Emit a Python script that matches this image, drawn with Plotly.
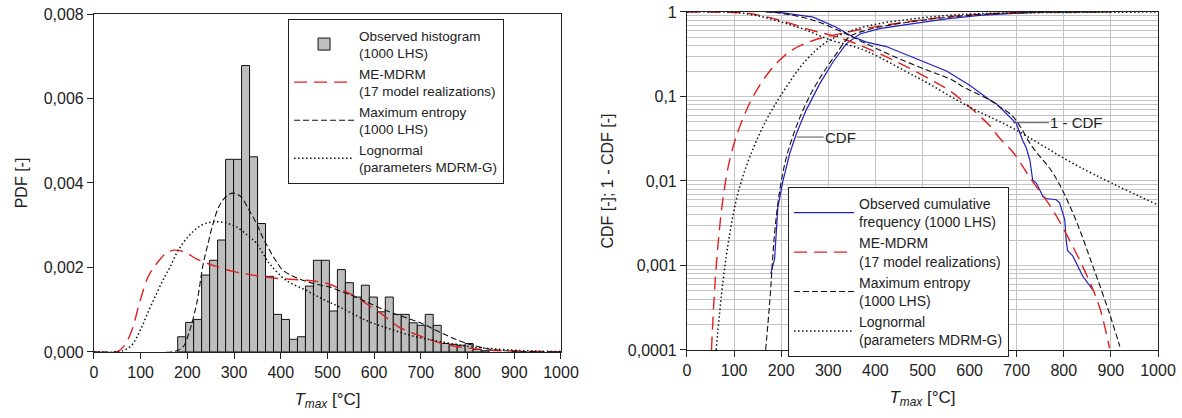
import plotly.graph_objects as go

# ---------------- data: left panel (PDF) ----------------
hist_centers = [187.8, 204.9, 222.0, 239.1, 256.2, 273.3, 290.4, 307.5, 324.6, 341.7,
                358.8, 375.9, 393.0, 410.1, 427.2, 444.3, 461.4, 478.5, 495.6, 512.7,
                529.8, 546.9, 564.0, 581.1, 598.2, 615.3, 632.4, 649.5, 666.6, 683.7,
                700.8, 717.9, 735.0, 752.1, 769.2, 786.3, 803.4, 820.5, 837.6]
hist_density = [0.00036, 0.00070, 0.00077, 0.00182, 0.00217, 0.00265, 0.00456, 0.00456, 0.00678, 0.00462,
                0.00304, 0.00179, 0.00089, 0.00077, 0.00030, 0.00036, 0.00156, 0.00217, 0.00217, 0.00097,
                0.00195, 0.00164, 0.00130, 0.00158, 0.00130, 0.00095, 0.00130, 0.00089, 0.00089, 0.00069,
                0.00063, 0.00089, 0.00063, 0.00020, 0.00018, 0.00016, 0.00020, 0.00006, 0.00003]
hist_bin_width = 17.1

me_mdrm_pdf_x = [0, 40, 52, 65, 81, 99, 116, 134, 155, 173, 195, 220, 255, 300, 340, 386, 436, 470,
                 500, 530, 561, 585, 610, 630, 653, 680, 703, 725, 745, 770, 795, 830, 870, 920, 1000]
me_mdrm_pdf_y = [0, 0, 0.00002, 0.00015, 0.00051, 0.00122, 0.00178, 0.00209, 0.00234, 0.00241,
                 0.00236, 0.00220, 0.00205, 0.00190, 0.00182, 0.00175, 0.00171, 0.00168, 0.00162,
                 0.00148, 0.00130, 0.00113, 0.00095, 0.00078, 0.00059, 0.00046, 0.00036, 0.00027,
                 0.00020, 0.00014, 0.00010, 0.00006, 0.00003, 0.000015, 0.000005]

maxent_pdf_x = [0, 165, 180, 191, 205, 220, 234, 245, 255, 268, 283, 298, 315, 330, 348, 362, 376,
                390, 404, 425, 447, 470, 490, 504, 530, 561, 590, 617, 645, 674, 703, 731, 760, 788,
                815, 845, 880, 920, 1000]
maxent_pdf_y = [0, 0, 0.00004, 0.00012, 0.00051, 0.00115, 0.00209, 0.00260, 0.00304, 0.00345,
                0.00368, 0.00376, 0.00367, 0.00340, 0.00304, 0.00270, 0.00241, 0.00215, 0.00194,
                0.00180, 0.00170, 0.00162, 0.00157, 0.00154, 0.00143, 0.00130, 0.00115, 0.00102,
                0.00090, 0.00079, 0.00067, 0.00052, 0.00037, 0.00024, 0.00015, 0.00007, 0.00003,
                0.00001, 0.0]

lognorm_pdf_x = [0, 50, 60, 80, 99, 116, 134, 150, 163, 180, 205, 230, 255, 280, 305, 330, 348, 376,
                 411, 454, 490, 525, 582, 632, 689, 745, 802, 850, 900, 950, 1000]
lognorm_pdf_y = [0, 0, 0.00002, 0.00015, 0.00051, 0.00095, 0.00138, 0.00175, 0.00201, 0.00240,
                 0.00277, 0.00300, 0.00308, 0.00306, 0.00296, 0.00275, 0.00257, 0.00209, 0.00170,
                 0.00146, 0.00125, 0.00107, 0.00075, 0.00055, 0.00036, 0.00024, 0.00013, 0.00008,
                 0.00004, 0.00002, 0.00001]

# ---------------- data: right panel (CDF / 1-CDF) ----------------
obs_cdf_x = [178, 186, 193, 204, 218, 232, 253, 282, 310, 338, 367, 409, 480, 551, 621, 692, 727, 760, 800, 862]
obs_cdf_y = [0.0008, 0.0012, 0.0049, 0.0102, 0.021, 0.036, 0.069, 0.142, 0.256, 0.42, 0.55, 0.635,
             0.73, 0.83, 0.91, 0.97, 0.985, 0.993, 0.997, 0.9995]
obs_sf_x = [178, 197, 268, 317, 352, 381, 423, 480, 551, 600, 643, 657, 680, 699, 713, 720, 728,
            734, 742, 756, 763, 784, 791, 798, 802, 805, 808, 819, 834, 840, 862]
obs_sf_y = [0.9992, 0.99, 0.87, 0.66, 0.51, 0.44, 0.39, 0.29, 0.20, 0.136, 0.091, 0.082, 0.062,
            0.048, 0.030, 0.025, 0.0176, 0.0102, 0.0094, 0.0065, 0.0062, 0.0060, 0.0055, 0.0042,
            0.0035, 0.0020, 0.0015, 0.0013, 0.00089, 0.00075, 0.00051]

me_mdrm_cdf_x = [52, 62, 76, 91, 112, 140, 176, 218, 268, 324, 381, 444, 515, 586, 692, 800, 900]
me_mdrm_cdf_y = [0.0001, 0.00097, 0.0059, 0.018, 0.044, 0.099, 0.20, 0.34, 0.46, 0.55, 0.64, 0.73,
                 0.83, 0.91, 0.98, 0.995, 0.999]
me_mdrm_sf_x = [0, 126, 147, 197, 268, 317, 374, 444, 525, 560, 600, 643, 664, 692, 728, 777, 812, 848, 876, 897]
me_mdrm_sf_y = [0.9999, 0.97, 0.93, 0.80, 0.60, 0.51, 0.39, 0.26, 0.15, 0.115, 0.075, 0.045, 0.032,
                0.022, 0.011, 0.0045, 0.0020, 0.00078, 0.00032, 0.000105]

maxent_cdf_x = [167, 176, 186, 197, 211, 232, 260, 289, 317, 345, 381, 444, 515, 586, 657, 727, 800, 900]
maxent_cdf_y = [0.0001, 0.00039, 0.0024, 0.0078, 0.019, 0.044, 0.10, 0.19, 0.32, 0.51, 0.61, 0.72,
                0.82, 0.90, 0.96, 0.985, 0.996, 0.9995]
maxent_sf_x = [167, 197, 268, 338, 381, 444, 515, 564, 586, 643, 657, 692, 734, 777, 820, 862, 897, 919]
maxent_sf_y = [0.9999, 0.97, 0.80, 0.55, 0.42, 0.29, 0.20, 0.156, 0.13, 0.091, 0.080, 0.058, 0.025,
               0.0124, 0.0041, 0.00097, 0.00027, 0.00011]

lognorm_cdf_x = [62, 76, 91, 108, 133, 168, 211, 253, 296, 352, 409, 480, 551, 621, 727, 1000]
lognorm_cdf_y = [0.0001, 0.00062, 0.0024, 0.0071, 0.019, 0.052, 0.13, 0.27, 0.44, 0.61, 0.73, 0.83,
                 0.91, 0.955, 0.98, 0.998]
lognorm_sf_x = [0, 100, 147, 197, 253, 303, 367, 409, 480, 500, 600, 692, 834, 1000]
lognorm_sf_y = [0.9999, 0.99, 0.91, 0.77, 0.61, 0.47, 0.37, 0.29, 0.178, 0.156, 0.075, 0.042, 0.0146, 0.0052]

x_ticks = [0, 100, 200, 300, 400, 500, 600, 700, 800, 900, 1000]
pdf_ticks = [0.0, 0.002, 0.004, 0.006, 0.008]
cdf_ticks = [0.0001, 0.001, 0.01, 0.1, 1]
cdf_ticklabels = ["0,0001", "0,001", "0,01", "0,1", "1"]

# ---------------- styles ----------------
RED = "#e02020"
BLUE = "#2020c0"
BLACK = "#111111"
red_dash = "13px,7px"
blk_dash = "6px,3px"
dot_dash = "1.5px,2.5px"
FONT = "Liberation Sans, Arial, sans-serif"

fig = go.Figure()

# left panel
fig.add_trace(go.Bar(x=hist_centers, y=hist_density, width=hist_bin_width,
                     marker=dict(color="#bebebe", line=dict(color="#111111", width=1)),
                     name="Observed histogram<br>(1000 LHS)", xaxis="x", yaxis="y", legend="legend"))
fig.add_trace(go.Scatter(x=me_mdrm_pdf_x, y=me_mdrm_pdf_y, mode="lines",
                         line=dict(color=RED, width=1.4, dash=red_dash, shape="spline"),
                         name="ME-MDRM<br>(17 model realizations)", xaxis="x", yaxis="y", legend="legend"))
fig.add_trace(go.Scatter(x=maxent_pdf_x, y=maxent_pdf_y, mode="lines",
                         line=dict(color=BLACK, width=1.1, dash=blk_dash, shape="spline"),
                         name="Maximum entropy<br>(1000 LHS)", xaxis="x", yaxis="y", legend="legend"))
fig.add_trace(go.Scatter(x=lognorm_pdf_x, y=lognorm_pdf_y, mode="lines",
                         line=dict(color=BLACK, width=1.5, dash=dot_dash, shape="spline"),
                         name="Lognormal<br>(parameters MDRM-G)", xaxis="x", yaxis="y", legend="legend"))

# right panel
def add_pair(cx, cy, sx, sy, name, line):
    fig.add_trace(go.Scatter(x=cx, y=cy, mode="lines", line=line, name=name, legendgroup=name,
                             xaxis="x2", yaxis="y2", legend="legend2"))
    fig.add_trace(go.Scatter(x=sx, y=sy, mode="lines", line=line, name=name, legendgroup=name,
                             showlegend=False, xaxis="x2", yaxis="y2", legend="legend2"))

add_pair(obs_cdf_x, obs_cdf_y, obs_sf_x, obs_sf_y, "Observed cumulative<br>frequency (1000 LHS)",
         dict(color=BLUE, width=1.2))
add_pair(me_mdrm_cdf_x, me_mdrm_cdf_y, me_mdrm_sf_x, me_mdrm_sf_y, "ME-MDRM<br>(17 model realizations)",
         dict(color=RED, width=1.4, dash=red_dash, shape="spline"))
add_pair(maxent_cdf_x, maxent_cdf_y, maxent_sf_x, maxent_sf_y, "Maximum entropy<br>(1000 LHS)",
         dict(color=BLACK, width=1.1, dash=blk_dash, shape="spline"))
add_pair(lognorm_cdf_x, lognorm_cdf_y, lognorm_sf_x, lognorm_sf_y, "Lognormal<br>(parameters MDRM-G)",
         dict(color=BLACK, width=1.5, dash=dot_dash, shape="spline"))

# annotations "CDF" and "1 - CDF"
fig.add_annotation(x=233, y=-1.48, xref="x2", yref="y2", text="CDF", showarrow=True,
                   arrowhead=0, arrowcolor="#555555", arrowwidth=1, ax=44, ay=0,
                   font=dict(size=15, color="#222222"))
fig.add_annotation(x=692, y=-1.31, xref="x2", yref="y2", text="1 - CDF", showarrow=True,
                   arrowhead=0, arrowcolor="#555555", arrowwidth=1, ax=64, ay=0,
                   font=dict(size=15, color="#222222"))

title_x = "<i>T</i><sub><i>max</i></sub> [°C]"
axis_common = dict(showline=True, linecolor="#222222", linewidth=1, mirror=True,
                   ticks="outside", ticklen=6, tickcolor="#222222", zeroline=False,
                   ticklabeloverflow="allow",
                   tickfont=dict(size=16, color="#222222"))

fig.update_layout(
    width=1182, height=418,
    margin=dict(l=0, r=0, t=0, b=0),
    paper_bgcolor="white", plot_bgcolor="white",
    separators=",.",
    font=dict(family=FONT, size=15, color="#222222"),
    bargap=0,
    hovermode=False,
    xaxis=dict(domain=[0.0795, 0.4746], range=[0, 1000], tickvals=x_ticks, showgrid=False,
               anchor="y", title=dict(text=title_x, font=dict(size=17), standoff=12),
               automargin=False, **axis_common),
    yaxis=dict(domain=[0.158, 0.9665], range=[0, 0.008], tickvals=pdf_ticks, tickformat=".3f",
               showgrid=False, anchor="x", title=dict(text="PDF [-]", font=dict(size=16), standoff=12),
               automargin=False, **axis_common),
    xaxis2=dict(domain=[0.5812, 0.9797], range=[0, 1000], tickvals=x_ticks, anchor="y2",
                showgrid=True, gridcolor="#c4c4c4", gridwidth=1,
                title=dict(text=title_x, font=dict(size=17), standoff=12),
                automargin=False, **axis_common),
    yaxis2=dict(domain=[0.1627, 0.9713], type="log", range=[-4, 0], tickvals=cdf_ticks,
                ticktext=cdf_ticklabels, anchor="x2", showgrid=True, gridcolor="#c4c4c4", gridwidth=1,
                minor=dict(tickvals=[k * 10.0 ** d for d in range(-4, 0) for k in range(2, 10)],
                           showgrid=True, gridcolor="#c4c4c4", gridwidth=1, ticks=""),
                title=dict(text="CDF [-]; 1 - CDF [-]", font=dict(size=16), standoff=10),
                automargin=False, **axis_common),
    legend=dict(x=0.2437, y=0.9545, xanchor="left", yanchor="top", bgcolor="white",
                bordercolor="#222222", borderwidth=1, font=dict(size=13.5, color="#222222"),
                tracegroupgap=0, itemwidth=60),
    legend2=dict(x=0.6667, y=0.5526, xanchor="left", yanchor="top", bgcolor="white",
                 bordercolor="#222222", borderwidth=1, font=dict(size=14, color="#222222"),
                 tracegroupgap=0, itemwidth=60),
    showlegend=True,
)

# remove the default 8 px page margin so the figure fills the window exactly
fig.write_html("out.html", config={"displayModeBar": False, "staticPlot": True},
               post_script="document.body.style.margin='0';document.body.style.overflow='hidden';")
